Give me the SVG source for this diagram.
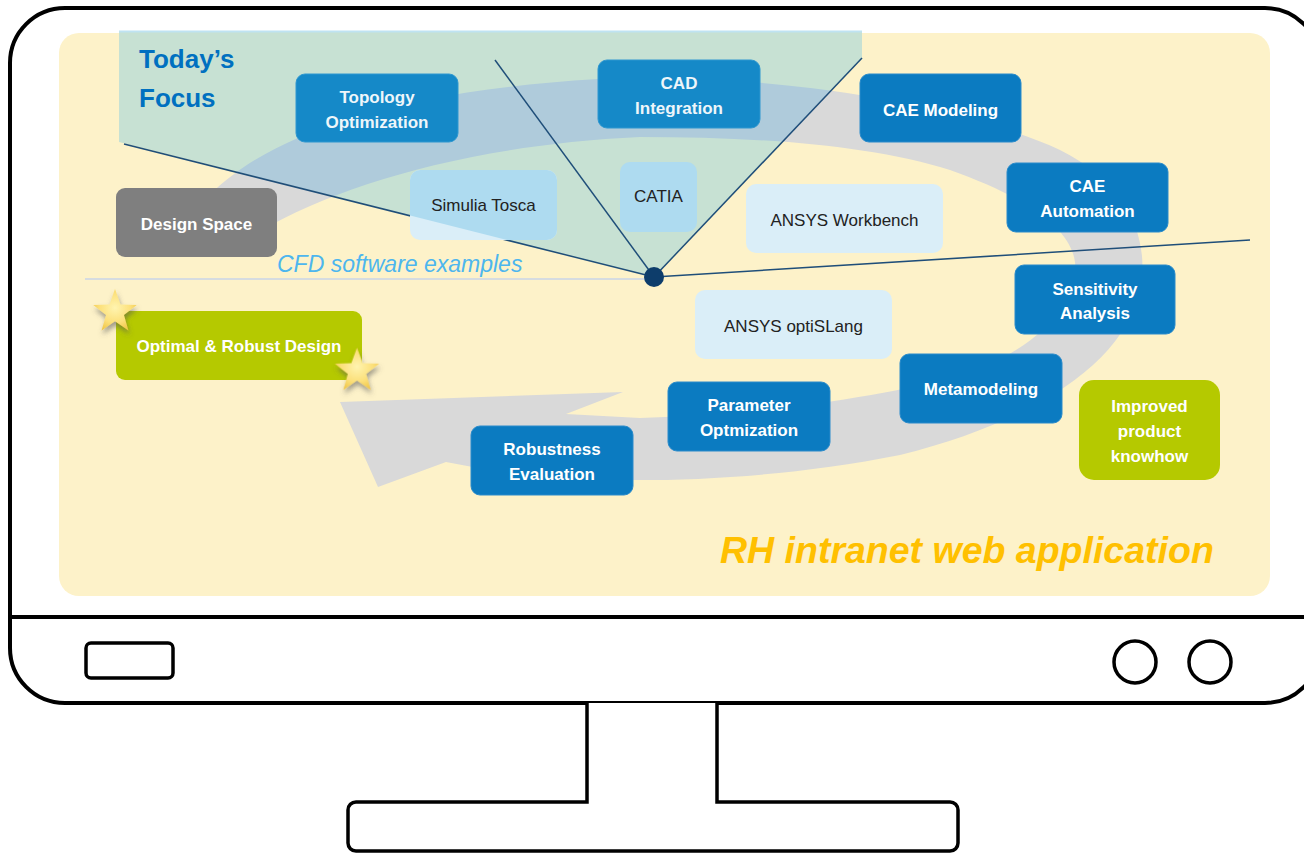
<svg xmlns="http://www.w3.org/2000/svg" width="1304" height="853" viewBox="0 0 1304 853">
  <defs>
    <style>
      .frame { fill: none; stroke: #000; stroke-width: 4; }
      .box-dark { fill: #0B7BC1; stroke: #2A8BCB; stroke-width: 1; }
      .box-focus { fill: #1589C8; stroke: #2E97D0; stroke-width: 1; }
      .box-light { fill: #DAEEF8; }
      .box-light-focus { fill: #AEDBF0; }
      .box-green { fill: #B5C900; }
      .box-grey { fill: #7F7F7F; }
      .t-w { font-family: "Liberation Sans", Arial, sans-serif; font-weight: bold; font-size: 17px; fill: #fff; text-anchor: middle; }
      .t-wf { font-family: "Liberation Sans", Arial, sans-serif; font-weight: bold; font-size: 17px; fill: #EEF6FA; text-anchor: middle; }
      .t-k { font-family: "Liberation Sans", Arial, sans-serif; font-size: 17px; fill: #222; text-anchor: middle; }
      .link { fill: none; stroke: #1F4E79; stroke-width: 1.5; }
      .band { fill: #D9D9D9; }
    </style>
    <radialGradient id="starFill" cx="0.5" cy="0.45" r="0.6">
      <stop offset="0" stop-color="#FFF4B0"/>
      <stop offset="0.6" stop-color="#FCE07A"/>
      <stop offset="1" stop-color="#EFC443"/>
    </radialGradient>
    <filter id="starShadow" x="-50%" y="-50%" width="200%" height="200%">
      <feDropShadow dx="1" dy="4" stdDeviation="2.5" flood-color="#555" flood-opacity="0.55"/>
    </filter>
    <path id="star" d="M0,-22 L5.3,-7.3 L20.9,-6.8 L8.6,2.8 L12.9,17.8 L0,9 L-12.9,17.8 L-8.6,2.8 L-20.9,-6.8 L-5.3,-7.3 Z"/>
    <polygon id="focusArea" points="119,31 862,31 862,58 654,277 119,142"/>
    <clipPath id="focusClip">
      <use href="#focusArea"/>
    </clipPath>
    <!-- circular process band with its arrowhead at the lower left -->
    <path id="cycle" d="M205,200 C260,140 380,92 598,79 C760,72 950,100 1060,150 C1130,185 1150,240 1140,290 C1125,360 1040,420 900,455 C800,475 700,481 620,480 L520,476 L446,462 L378,487 L340,402 L623,392 L566,414 L640,418 C760,414 880,398 960,375 C1040,350 1080,300 1075,262 C1070,225 1020,195 950,170 C870,145 760,137 640,137 C470,145 340,185 262,230 Z"/>
  </defs>

  <rect width="1304" height="853" fill="#fff"/>

  <!-- monitor housing and stand -->
  <g id="monitor">
    <rect x="10" y="8" width="1310" height="695" rx="55" fill="#fff" class="frame"/>
    <line x1="10" y1="617" x2="1320" y2="617" class="frame"/>
    <rect x="86" y="643" width="87" height="35" rx="5" fill="#fff" stroke="#000" stroke-width="3.5"/>
    <circle cx="1135" cy="662" r="21" fill="#fff" stroke="#000" stroke-width="3.5"/>
    <circle cx="1210" cy="662" r="21" fill="#fff" stroke="#000" stroke-width="3.5"/>
    <path d="M587,703 V802 H356 A8,8 0 0 0 348,810 V843 A8,8 0 0 0 356,851 H950 A8,8 0 0 0 958,843 V810 A8,8 0 0 0 950,802 H717 V703" fill="#fff" stroke="#000" stroke-width="3.5"/>
  </g>

  <!-- screen content background -->
  <g id="screen">
    <rect x="59" y="33" width="1211" height="563" rx="20" fill="#FDF2C9"/>
    <line x1="85" y1="279" x2="654" y2="279" stroke="#D6DCE0" stroke-width="2"/>
    <use href="#cycle" class="band"/>
    <use href="#focusArea" fill="#C7E1D3"/>
    <line x1="119" y1="31.5" x2="862" y2="31.5" stroke="#BFE3F2" stroke-width="2"/>
    <use href="#cycle" fill="#AFCBDB" clip-path="url(#focusClip)"/>
  </g>

  <!-- connectors radiating from the focus point -->
  <g id="connectors">
    <line x1="654" y1="277" x2="124" y2="144" class="link"/>
    <line x1="654" y1="277" x2="495" y2="60" class="link"/>
    <line x1="654" y1="277" x2="862" y2="58" class="link"/>
    <line x1="654" y1="277" x2="1250" y2="240" class="link"/>
  </g>

  <g id="label-focus">
    <text x="139" y="68" font-family="'Liberation Sans', Arial, sans-serif" font-weight="bold" font-size="26" fill="#0070C0">Today’s</text>
    <text x="139" y="107" font-family="'Liberation Sans', Arial, sans-serif" font-weight="bold" font-size="26" fill="#0070C0">Focus</text>
  </g>

  <g id="node-topology">
    <rect x="296" y="74" width="162" height="68" rx="9" class="box-focus"/>
    <text x="377" y="103" class="t-wf">Topology</text>
    <text x="377" y="128" class="t-wf">Optimization</text>
  </g>

  <g id="node-cad">
    <rect x="598" y="60" width="162" height="68" rx="9" class="box-focus"/>
    <text x="679" y="89" class="t-wf">CAD</text>
    <text x="679" y="114" class="t-wf">Integration</text>
  </g>

  <g id="node-cae-modeling">
    <rect x="860" y="74" width="161" height="68" rx="9" class="box-dark"/>
    <text x="940.5" y="116" class="t-w">CAE Modeling</text>
  </g>

  <g id="node-cae-automation">
    <rect x="1007" y="163" width="161" height="69" rx="9" class="box-dark"/>
    <text x="1087.5" y="192" class="t-w">CAE</text>
    <text x="1087.5" y="217" class="t-w">Automation</text>
  </g>

  <g id="node-sensitivity">
    <rect x="1015" y="265" width="160" height="69" rx="9" class="box-dark"/>
    <text x="1095" y="295" class="t-w">Sensitivity</text>
    <text x="1095" y="319" class="t-w">Analysis</text>
  </g>

  <g id="node-metamodeling">
    <rect x="900" y="354" width="162" height="69" rx="9" class="box-dark"/>
    <text x="981" y="395" class="t-w">Metamodeling</text>
  </g>

  <g id="node-parameter">
    <rect x="668" y="382" width="162" height="69" rx="9" class="box-dark"/>
    <text x="749" y="411" class="t-w">Parameter</text>
    <text x="749" y="436" class="t-w">Optmization</text>
  </g>

  <g id="node-robustness">
    <rect x="471" y="426" width="162" height="69" rx="9" class="box-dark"/>
    <text x="552" y="455" class="t-w">Robustness</text>
    <text x="552" y="480" class="t-w">Evaluation</text>
  </g>

  <g id="node-design-space">
    <rect x="116" y="188" width="161" height="69" rx="9" class="box-grey"/>
    <text x="196.5" y="230" class="t-w">Design Space</text>
  </g>

  <g id="node-optimal">
    <rect x="116" y="311" width="246" height="69" rx="9" class="box-green"/>
    <text x="239" y="352" class="t-w">Optimal &amp; Robust Design</text>
  </g>

  <g id="node-knowhow">
    <rect x="1079" y="380" width="141" height="100" rx="15" class="box-green"/>
    <text x="1149.5" y="412" class="t-w">Improved</text>
    <text x="1149.5" y="437" class="t-w">product</text>
    <text x="1149.5" y="462" class="t-w">knowhow</text>
  </g>

  <g id="node-tosca">
    <rect x="410" y="170" width="147" height="70" rx="10" class="box-light"/>
    <rect x="410" y="170" width="147" height="70" rx="10" class="box-light-focus" clip-path="url(#focusClip)"/>
    <text x="483.5" y="211" class="t-k">Simulia Tosca</text>
  </g>

  <g id="node-catia">
    <rect x="620" y="162" width="77" height="70" rx="10" class="box-light-focus"/>
    <text x="658.5" y="202" class="t-k">CATIA</text>
  </g>

  <g id="node-workbench">
    <rect x="746" y="184" width="197" height="69" rx="10" class="box-light"/>
    <text x="844.5" y="226" class="t-k">ANSYS Workbench</text>
  </g>

  <g id="node-optislang">
    <rect x="695" y="290" width="197" height="69" rx="10" class="box-light"/>
    <text x="793.5" y="332" class="t-k">ANSYS optiSLang</text>
  </g>

  <g id="label-cfd">
    <text x="277" y="272" font-family="'Liberation Sans', Arial, sans-serif" font-style="italic" font-size="23" fill="#4DB6EE">CFD software examples</text>
  </g>

  <g id="label-app">
    <text x="720" y="563" font-family="'Liberation Sans', Arial, sans-serif" font-style="italic" font-weight="bold" font-size="37.5" fill="#FFC000">RH intranet web application</text>
  </g>

  <g id="stars" filter="url(#starShadow)">
    <use href="#star" transform="translate(115,312) scale(1.04)" fill="url(#starFill)"/>
    <use href="#star" transform="translate(357,371) scale(1.06)" fill="url(#starFill)"/>
  </g>

  <circle id="focus-point" cx="654" cy="277" r="10" fill="#0D3D6B"/>
</svg>
